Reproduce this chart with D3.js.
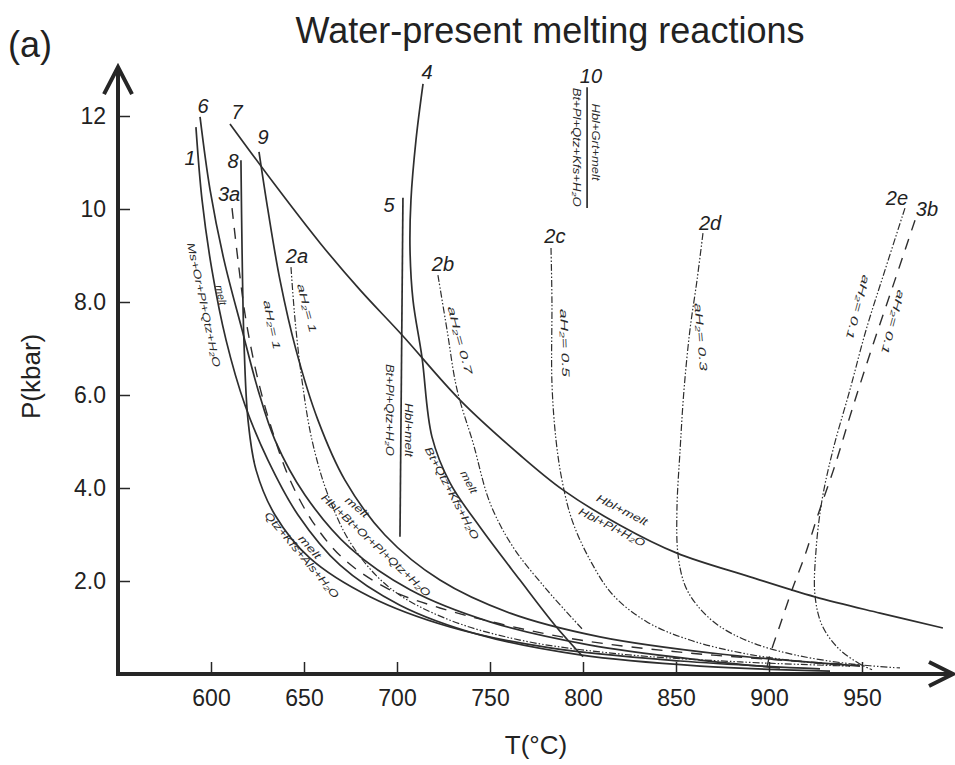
<!DOCTYPE html>
<html lang="en">
<head>
<meta charset="UTF-8" />
<title>Water-present melting reactions</title>
<script src="https://d3js.org/d3.v7.min.js"></script>
<style>
  body { margin: 0; background: #fff; font-family: "Liberation Sans", Arial, Helvetica, sans-serif; }
  .curve { fill: none; stroke: #2e2e2e; stroke-width: 1.7px; }
  .curve.dashdot { stroke-width: 1.2px; stroke-dasharray: 7,2,1.5,2,1.5,2; }
  .curve.dashed { stroke-width: 1.4px; stroke-dasharray: 11,9; }
  .axis-line { stroke: #262626; stroke-width: 4px; fill: none; }
  .axis text { font-size: 23px; fill: #222; font-family: "Liberation Sans", Arial, sans-serif; }
  .axis .tick line { stroke: #262626; stroke-width: 1.5px; }
  .num { font-size: 20px; font-style: italic; fill: #222; }
  .rxn { font-size: 10.5px; font-style: italic; fill: #2a2a2a; }
</style>
</head>
<body>
<svg id="chart" width="955" height="765"></svg>
<script>
  // curves as [T (°C), P (kbar)]
  const curve1  = [[591.9,11.76],[595.2,10.19],[600.5,8.69],[608.1,7.18],[618.3,5.78],[630.6,4.60],[646.8,3.42],[669.4,2.34],[701.6,1.48],[744.6,0.84],[798.4,0.41],[862.9,0.17],[932.8,0.06]];
  const curve6  = [[594.1,11.98],[599.5,10.41],[607.0,8.90],[616.7,7.40],[625.3,6.11],[634.4,5.03],[650.5,3.85],[674.7,2.71],[707.0,1.81],[750.0,1.12],[803.8,0.62],[862.9,0.30],[905.9,0.13]];
  const curve8  = [[616.1,11.05],[616.7,9.12],[617.7,7.18],[619.9,5.46],[624.2,4.39],[634.4,3.42],[653.2,2.49],[685.5,1.66],[728.5,1.01],[782.3,0.56],[852.2,0.28],[927.4,0.11]];
  const curve9  = [[625.8,11.23],[630.6,9.98],[637.1,8.47],[645.7,6.97],[657.5,5.46],[672.0,4.17],[693.5,2.99],[723.1,2.02],[760.8,1.31],[809.1,0.80],[873.7,0.43],[948.9,0.17]];
  const curve7  = [[610.2,11.83],[634.4,10.52],[658.6,9.27],[680.1,8.26],[702.7,7.29],[733.9,5.89],[766.1,4.71],[789.2,3.96],[819.9,3.20],[850.5,2.60],[889.8,2.09],[924.7,1.66],[959.7,1.31],[993.5,0.99]];
  const curve4  = [[714.0,12.69],[710.2,11.48],[707.5,10.19],[707.0,9.12],[708.6,8.04],[713.4,6.82],[718.8,5.10],[728.5,4.11],[744.6,3.16],[766.1,2.02],[784.9,1.05],[800.0,0.37]];
  const curve5  = [[703.2,10.24],[701.6,2.95]];
  const curve10 = [[802.2,12.62],[802.2,10.02]];
  const curve3a = [[611.3,10.02],[614.5,8.90],[618.8,7.61],[625.3,6.32],[632.8,5.25],[642.5,4.17],[655.9,3.20],[672.0,2.45],[696.2,1.81],[723.1,1.42],[755.4,1.08],[798.4,0.73],[852.2,0.47],[905.9,0.30],[948.9,0.19]];
  const curve3b = [[978.5,9.76],[967.7,8.47],[955.9,7.08],[944.6,5.68],[935.5,4.49],[926.3,3.42],[919.4,2.56],[912.4,1.81],[905.9,1.05],[900.5,0.41],[898.9,0.15]];
  const curve2a = [[643.0,8.75],[645.2,7.61],[648.9,6.32],[654.3,5.03],[662.9,3.85],[675.8,2.77],[696.2,1.85],[725.8,1.20],[766.1,0.73],[819.9,0.43],[884.4,0.26],[943.5,0.17]];
  const curve2b = [[722.0,8.58],[726.9,7.40],[732.3,6.11],[740.9,4.97],[750.0,3.68],[762.4,2.73],[780.6,1.81],[800.0,0.95]];
  const curve2c = [[782.8,9.16],[783.3,8.04],[783.3,6.26],[785.5,5.03],[788.7,4.17],[794.1,3.31],[803.8,2.45],[816.1,1.70],[834.4,1.12],[857.5,0.73],[888.2,0.43],[923.7,0.24],[943.5,0.17]];
  const curve2d = [[864.5,9.48],[861.3,8.47],[857.5,7.40],[854.3,6.11],[852.2,4.82],[850.5,3.53],[851.1,2.56],[854.8,1.91],[861.3,1.48],[872.6,1.05],[889.8,0.69],[914.0,0.41],[943.5,0.22],[970.4,0.13]];
  const curve2e = [[973.1,10.02],[962.4,8.69],[952.2,7.40],[943.5,6.11],[934.4,4.82],[928.5,3.74],[925.3,2.67],[924.7,1.70],[928.5,1.05],[937.1,0.56],[947.8,0.24],[955.4,0.09]];

  const xTicks = [600, 650, 700, 750, 800, 850, 900, 950];
  const yTicks = [2, 4, 6, 8, 10, 12];
  const yTickLabels = ['2.0', '4.0', '6.0', '8.0', '10', '12'];

  const series = [
    { id: '1', pts: curve1, style: 'solid' },
    { id: '6', pts: curve6, style: 'solid' },
    { id: '8', pts: curve8, style: 'solid' },
    { id: '9', pts: curve9, style: 'solid' },
    { id: '7', pts: curve7, style: 'solid' },
    { id: '4', pts: curve4, style: 'solid' },
    { id: '5', pts: curve5, style: 'solid' },
    { id: '10', pts: curve10, style: 'solid' },
    { id: '3a', pts: curve3a, style: 'dashed' },
    { id: '3b', pts: curve3b, style: 'dashed' },
    { id: '2a', pts: curve2a, style: 'dashdot' },
    { id: '2b', pts: curve2b, style: 'dashdot' },
    { id: '2c', pts: curve2c, style: 'dashdot' },
    { id: '2d', pts: curve2d, style: 'dashdot' },
    { id: '2e', pts: curve2e, style: 'dashdot' }
  ];

  // curve numbers [text, T, P]
  const curveNumbers = [
    ['1', 588.7, 11.10], ['6', 595.7, 12.22], ['7', 614.0, 12.09], ['8', 611.8, 11.03],
    ['9', 628.0, 11.55], ['3a', 609.7, 10.32], ['2a', 646.2, 8.99], ['2b', 724.7, 8.82],
    ['2c', 784.9, 9.42], ['2d', 868.3, 9.70], ['2e', 968.8, 10.24], ['3b', 984.9, 10.00],
    ['4', 716.1, 12.95], ['5', 695.7, 10.09], ['10', 804.3, 12.86]
  ];

  // reaction labels [text, T, P, angle, length]
  const reactionLabels = [
    ['Ms+Or+Pl+Qtz+H₂O', 596.2, 7.94, 78, 127],
    ['melt', 605.4, 8.15, 78, 20],
    ['aH₂= 1', 632.8, 7.51, 78, 50],
    ['aH₂= 1', 651.6, 7.87, 75, 50],
    ['aH₂= 0.7', 733.9, 7.18, 75, 70],
    ['aH₂= 0.5', 790.3, 7.12, 88, 68],
    ['aH₂= 0.3', 863.4, 7.25, 85, 68],
    ['aH₂= 0.1', 947.8, 7.89, 105, 66],
    ['aH₂= 0.1', 966.7, 7.57, 105, 66],
    ['Bt+Pl+Qtz+H₂O', 696.2, 5.68, 90, 92],
    ['Hbl+melt', 706.5, 5.25, 90, 54],
    ['Bt+Qtz+Kfs+H₂O', 729.6, 3.89, 62, 103],
    ['melt', 738.7, 4.13, 62, 24],
    ['Hbl+Grt+melt', 807.0, 11.44, 90, 77],
    ['Bt+Pl+Qtz+Kfs+H₂O', 796.8, 11.33, 90, 119],
    ['Hbl+melt', 821.0, 3.53, 27, 56],
    ['Hbl+Pl+H₂O', 815.6, 3.16, 27, 73],
    ['melt', 678.5, 3.59, 40, 27],
    ['Hbl+Bt+Or+Pl+Qtz+H₂O', 688.7, 2.77, 43, 145],
    ['melt', 653.2, 2.73, 48, 28],
    ['Qtz+Kfs+Als+H₂O', 648.9, 2.56, 50, 109]
  ];

  const svg = d3.select('#chart');

  const x = d3.scaleLinear().domain([550, 1000]).range([118, 955]);
  const y = d3.scaleLinear().domain([0, 12]).range([674, 116]);

  // title and panel letter
  svg.append('text')
    .attr('x', 550).attr('y', 43)
    .attr('text-anchor', 'middle')
    .attr('font-size', '36px')
    .attr('fill', '#222')
    .text('Water-present melting reactions');

  svg.append('text')
    .attr('x', 8).attr('y', 57)
    .attr('font-size', '36px')
    .attr('fill', '#222')
    .text('(a)');

  // curves
  const line = d3.line()
    .x(d => x(d[0]))
    .y(d => y(d[1]))
    .curve(d3.curveCatmullRom.alpha(0.5));

  svg.selectAll('path.curve')
    .data(series)
    .join('path')
    .attr('class', d => 'curve ' + d.style)
    .attr('d', d => line(d.pts));

  // axes
  const xAxis = svg.append('g')
    .attr('class', 'axis')
    .attr('transform', `translate(0,${y(0)})`)
    .call(d3.axisBottom(x).tickValues(xTicks).tickSizeInner(-12).tickSizeOuter(0).tickPadding(16));
  xAxis.select('.domain').remove();

  const yAxis = svg.append('g')
    .attr('class', 'axis')
    .attr('transform', `translate(${x(550)},0)`)
    .call(d3.axisLeft(y).tickValues(yTicks).tickFormat((d, i) => yTickLabels[i])
      .tickSizeInner(-12).tickSizeOuter(0).tickPadding(12));
  yAxis.select('.domain').remove();

  // axis lines with open arrow heads
  const x0 = x(550), y0 = y(0);
  const yTop = y(13.05), xEnd = x(1000) - 2;
  svg.append('path').attr('class', 'axis-line')
    .attr('d', `M${x0},${y0 + 2}V${yTop}`);
  svg.append('path').attr('class', 'axis-line')
    .attr('d', `M${x0 - 14},${yTop + 27}L${x0},${yTop}L${x0 + 14},${yTop + 27}`);
  svg.append('path').attr('class', 'axis-line')
    .attr('d', `M${x0 - 2},${y0}H${xEnd}`);
  svg.append('path').attr('class', 'axis-line')
    .attr('d', `M${xEnd - 24},${y0 - 12}L${xEnd},${y0}L${xEnd - 24},${y0 + 12}`);

  // axis titles
  svg.append('text')
    .attr('transform', `translate(40,${y(6.4)}) rotate(-90)`)
    .attr('text-anchor', 'middle')
    .attr('font-size', '26px')
    .attr('fill', '#222')
    .text('P(kbar)');

  svg.append('text')
    .attr('x', 536).attr('y', 754)
    .attr('text-anchor', 'middle')
    .attr('font-size', '26px')
    .attr('fill', '#222')
    .text('T(°C)');

  // curve numbers
  svg.selectAll('text.num')
    .data(curveNumbers)
    .join('text')
    .attr('class', 'num')
    .attr('x', d => x(d[1]))
    .attr('y', d => y(d[2]))
    .attr('dy', '0.35em')
    .attr('text-anchor', 'middle')
    .text(d => d[0]);

  // reaction labels along the curves
  svg.selectAll('text.rxn')
    .data(reactionLabels)
    .join('text')
    .attr('class', 'rxn')
    .attr('transform', d => `translate(${x(d[1])},${y(d[2])}) rotate(${d[3]})`)
    .attr('dy', '0.35em')
    .attr('text-anchor', 'middle')
    .attr('textLength', d => d[4])
    .attr('lengthAdjust', 'spacingAndGlyphs')
    .text(d => d[0]);
</script>
</body>
</html>
